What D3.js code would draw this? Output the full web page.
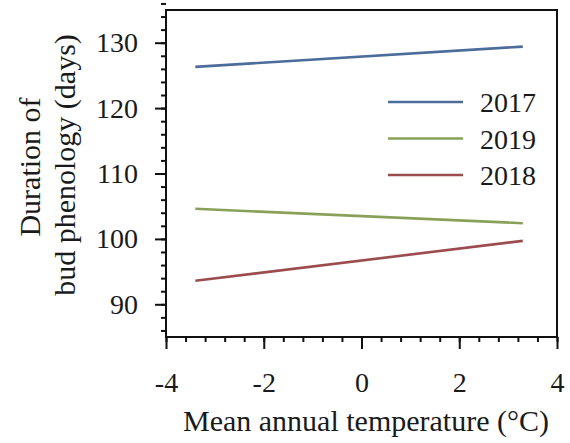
<!DOCTYPE html>
<meta charset="utf-8">
<style>
body { margin: 0; background: #fff; }
text { font-family: "Liberation Serif", "Times New Roman", serif; fill: #1a1a1a; }
.frame { fill: none; stroke: #111; stroke-width: 2px; }
.axis path, .axis line { stroke: #111; stroke-width: 2px; }
.series { fill: none; stroke-width: 2.6px; }
</style>
<svg width="570" height="443"></svg>
<script src="https://d3js.org/d3.v7.min.js"></script>
<script>

// fitted lines: temperature at both ends and duration (days)
var years = ["2017", "2019", "2018"];
var tempEnds = [-3.4, 3.3];
var days2017 = [126.3, 129.4];
var days2019 = [104.6, 102.4];
var days2018 = [93.6, 99.7];
var colors = ["#4c6c9b", "#8aa058", "#9c4c4e"];

var xTicks = [-4, -2, 0, 2, 4];
var yTicks = [90, 100, 110, 120, 130];

var series = [days2017, days2019, days2018];

var svg = d3.select("svg"),
    mLeft = 166, mRight = 557, mTop = 10, mBottom = 337;

var x = d3.scaleLinear().domain([-4, 4]).range([mLeft, mRight]);
var y = d3.scaleLinear().domain([85, 135]).range([mBottom, mTop]);

// minor ticks
var xMinor = d3.range(0, 21).map(function(i) { return -4 + i * 0.4; });
var yMinor = d3.range(0, 26).map(function(i) { return 86 + i * 2; });

svg.append("g").attr("class", "axis")
    .attr("transform", "translate(0," + mBottom + ")")
    .call(d3.axisBottom(x).tickValues(xMinor).tickSize(5).tickFormat(""))
    .select(".domain").remove();

svg.append("g").attr("class", "axis")
    .attr("transform", "translate(" + mLeft + ",0)")
    .call(d3.axisLeft(y).tickValues(yMinor).tickSize(5).tickFormat(""))
    .select(".domain").remove();

// major ticks with labels
var xAxis = svg.append("g").attr("class", "axis")
    .attr("transform", "translate(0," + mBottom + ")")
    .call(d3.axisBottom(x).tickValues(xTicks).tickSize(12).tickPadding(23)
        .tickFormat(function(d) { return String(d); }));
xAxis.select(".domain").remove();
xAxis.selectAll("text").style("font-size", "28px").style("font-family", "Liberation Serif").attr("fill", "#1a1a1a");

var yAxis = svg.append("g").attr("class", "axis")
    .attr("transform", "translate(" + mLeft + ",0)")
    .call(d3.axisLeft(y).tickValues(yTicks).tickSize(11).tickPadding(17));
yAxis.select(".domain").remove();
yAxis.selectAll("text").style("font-size", "28px").style("font-family", "Liberation Serif").attr("fill", "#1a1a1a");

svg.append("rect").attr("class", "frame")
    .attr("x", mLeft).attr("y", mTop)
    .attr("width", mRight - mLeft).attr("height", mBottom - mTop);

var line = d3.line()
    .x(function(d, i) { return x(tempEnds[i]); })
    .y(function(d) { return y(d); });

svg.selectAll(".series")
    .data(series)
    .enter().append("path")
    .attr("class", "series")
    .attr("d", line)
    .attr("stroke", function(d, i) { return colors[i]; });

// legend
var legend = svg.selectAll(".legend")
    .data(years)
    .enter().append("g")
    .attr("class", "legend")
    .attr("transform", function(d, i) { return "translate(388," + (102 + i * 36.5) + ")"; });

legend.append("line")
    .attr("x1", 0).attr("x2", 75)
    .attr("stroke", function(d, i) { return colors[i]; })
    .attr("stroke-width", 2.6);

legend.append("text")
    .attr("x", 92).attr("y", 10)
    .style("font-size", "28px")
    .text(function(d) { return d; });

// axis titles
svg.append("text")
    .attr("x", 366).attr("y", 431)
    .attr("text-anchor", "middle")
    .style("font-size", "30px")
    .text("Mean annual temperature (°C)");

svg.append("text")
    .attr("transform", "translate(40,167) rotate(-90)")
    .attr("text-anchor", "middle")
    .style("font-size", "30px")
    .text("Duration of");

svg.append("text")
    .attr("transform", "translate(75,165) rotate(-90)")
    .attr("text-anchor", "middle")
    .style("font-size", "30px")
    .text("bud phenology (days)");

</script>
